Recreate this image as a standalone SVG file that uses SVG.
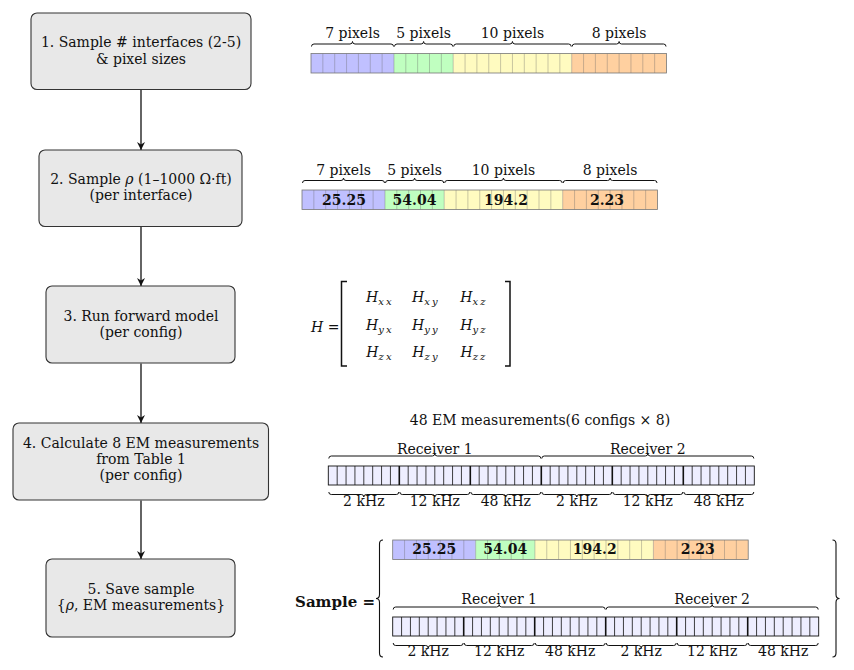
<svg xmlns="http://www.w3.org/2000/svg" width="854" height="670" viewBox="0 0 854 670">
<style>
text{font-family:"DejaVu Serif","Liberation Serif",serif;font-size:14px;fill:#111}
.node rect{fill:#e8e8e8;stroke:#333;stroke-width:1.1}
.c{text-anchor:middle}
.b{font-weight:bold}
.it{font-style:italic}
.sub{font-style:italic;font-size:10px;letter-spacing:2.2px}
.brace{fill:none;stroke:#111;stroke-width:1}
.cell{fill:none;stroke:#666;stroke-opacity:0.45;stroke-width:0.8}
.rborder{fill:none;stroke:#777;stroke-width:0.8}
.em{fill:#eeeeff;stroke:#111;stroke-width:0.9}
.emline{fill:none;stroke:#111;stroke-width:0.8}
.emthick{fill:none;stroke:#111;stroke-width:1.6}
.conn{fill:none;stroke:#111;stroke-width:1.3}
</style>
<defs>
<marker id="arr" viewBox="0 0 10 10" refX="10" refY="5" markerUnits="userSpaceOnUse" markerWidth="9" markerHeight="8" orient="auto">
<path d="M0,0 L10,5 L0,10 L3,5 z" fill="#111"/>
</marker>
<g id="rhobar">
<rect x="0" y="0" width="82.95" height="19.5" fill="#c0c0ff"/>
<rect x="82.95" y="0" width="59.25" height="19.5" fill="#c0ffc0"/>
<rect x="142.2" y="0" width="118.5" height="19.5" fill="#fffbc0"/>
<rect x="260.7" y="0" width="94.8" height="19.5" fill="#ffd0a0"/>
<path class="cell" d="M11.85,0V19.5M23.7,0V19.5M35.55,0V19.5M47.4,0V19.5M59.25,0V19.5M71.1,0V19.5M82.95,0V19.5M94.8,0V19.5M106.65,0V19.5M118.5,0V19.5M130.35,0V19.5M142.2,0V19.5M154.05,0V19.5M165.9,0V19.5M177.75,0V19.5M189.6,0V19.5M201.45,0V19.5M213.3,0V19.5M225.15,0V19.5M237,0V19.5M248.85,0V19.5M260.7,0V19.5M272.55,0V19.5M284.4,0V19.5M296.25,0V19.5M308.1,0V19.5M319.95,0V19.5M331.8,0V19.5M343.65,0V19.5"/>
<rect class="rborder" x="0" y="0" width="355.5" height="19.5"/>
</g>
<g id="rhobraces">
<path class="brace" d="M0.5,-7 Q0.5,-9.5 3,-9.5 L39,-9.5 Q41.5,-9.5 41.5,-12 Q41.5,-9.5 44,-9.5 L80,-9.5 Q82.5,-9.5 82.5,-7"/>
<path class="brace" d="M83.5,-7 Q83.5,-9.5 86,-9.5 L110.1,-9.5 Q112.6,-9.5 112.6,-12 Q112.6,-9.5 115.1,-9.5 L139.2,-9.5 Q141.7,-9.5 141.7,-7"/>
<path class="brace" d="M142.7,-7 Q142.7,-9.5 145.2,-9.5 L198.95,-9.5 Q201.45,-9.5 201.45,-12 Q201.45,-9.5 203.95,-9.5 L257.7,-9.5 Q260.2,-9.5 260.2,-7"/>
<path class="brace" d="M261.2,-7 Q261.2,-9.5 263.7,-9.5 L305.6,-9.5 Q308.1,-9.5 308.1,-12 Q308.1,-9.5 310.6,-9.5 L352.5,-9.5 Q355,-9.5 355,-7"/>
</g>
<g id="embar">
<rect class="em" x="0" y="0" width="426" height="19"/>
<path class="emline" d="M8.875,0V19M17.75,0V19M26.625,0V19M35.5,0V19M44.375,0V19M53.25,0V19M62.125,0V19M79.875,0V19M88.75,0V19M97.625,0V19M106.5,0V19M115.375,0V19M124.25,0V19M133.125,0V19M150.875,0V19M159.75,0V19M168.625,0V19M177.5,0V19M186.375,0V19M195.25,0V19M204.125,0V19M221.875,0V19M230.75,0V19M239.625,0V19M248.5,0V19M257.375,0V19M266.25,0V19M275.125,0V19M292.875,0V19M301.75,0V19M310.625,0V19M319.5,0V19M328.375,0V19M337.25,0V19M346.125,0V19M363.875,0V19M372.75,0V19M381.625,0V19M390.5,0V19M399.375,0V19M408.25,0V19M417.125,0V19"/>
<path class="emthick" d="M71,0V19M142,0V19M213,0V19M284,0V19M355,0V19"/>
</g>
<g id="embraces">
<path class="brace" d="M0.5,-7.5 Q0.5,-10 3,-10 L104,-10 Q106.5,-10 106.5,-12.5 Q106.5,-10 109,-10 L210,-10 Q212.5,-10 212.5,-7.5"/>
<path class="brace" d="M213.5,-7.5 Q213.5,-10 216,-10 L317,-10 Q319.5,-10 319.5,-12.5 Q319.5,-10 322,-10 L423,-10 Q425.5,-10 425.5,-7.5"/>
<path class="brace" d="M0.5,26 Q0.5,28.5 3,28.5 L33,28.5 Q35.5,28.5 35.5,31 Q35.5,28.5 38,28.5 L68,28.5 Q70.5,28.5 70.5,26"/>
<path class="brace" d="M71.5,26 Q71.5,28.5 74,28.5 L104,28.5 Q106.5,28.5 106.5,31 Q106.5,28.5 109,28.5 L139,28.5 Q141.5,28.5 141.5,26"/>
<path class="brace" d="M142.5,26 Q142.5,28.5 145,28.5 L175,28.5 Q177.5,28.5 177.5,31 Q177.5,28.5 180,28.5 L210,28.5 Q212.5,28.5 212.5,26"/>
<path class="brace" d="M213.5,26 Q213.5,28.5 216,28.5 L246,28.5 Q248.5,28.5 248.5,31 Q248.5,28.5 251,28.5 L281,28.5 Q283.5,28.5 283.5,26"/>
<path class="brace" d="M284.5,26 Q284.5,28.5 287,28.5 L317,28.5 Q319.5,28.5 319.5,31 Q319.5,28.5 322,28.5 L352,28.5 Q354.5,28.5 354.5,26"/>
<path class="brace" d="M355.5,26 Q355.5,28.5 358,28.5 L388,28.5 Q390.5,28.5 390.5,31 Q390.5,28.5 393,28.5 L423,28.5 Q425.5,28.5 425.5,26"/>
</g>
</defs>
<rect width="854" height="670" fill="#fff"/>

<g id="connectors">
<line class="conn" x1="141" y1="89.5" x2="141" y2="150" marker-end="url(#arr)"/>
<line class="conn" x1="141" y1="226.5" x2="141" y2="286" marker-end="url(#arr)"/>
<line class="conn" x1="141" y1="363.5" x2="141" y2="423" marker-end="url(#arr)"/>
<line class="conn" x1="141" y1="500.5" x2="141" y2="559" marker-end="url(#arr)"/>
</g>

<g id="node1" class="node">
<rect x="31" y="13" width="220" height="76.5" rx="6"/>
<text class="c" x="141" y="47">1. Sample # interfaces (2-5)</text>
<text class="c" x="141" y="63.5">&amp; pixel sizes</text>
</g>
<g id="node2" class="node">
<rect x="39" y="150" width="203" height="76.5" rx="6"/>
<text class="c" x="141" y="184">2. Sample <tspan class="it">ρ</tspan> (1–1000 Ω·ft)</text>
<text class="c" x="141" y="200">(per interface)</text>
</g>
<g id="node3" class="node">
<rect x="46" y="286" width="189" height="77" rx="6"/>
<text class="c" x="141" y="320.5">3. Run forward model</text>
<text class="c" x="141" y="336.5">(per config)</text>
</g>
<g id="node4" class="node">
<rect x="13" y="423" width="255.5" height="77" rx="6"/>
<text class="c" x="141" y="447.5">4. Calculate 8 EM measurements</text>
<text class="c" x="141" y="463.5">from Table 1</text>
<text class="c" x="141" y="479.5">(per config)</text>
</g>
<g id="node5" class="node">
<rect x="46" y="559" width="189" height="78" rx="6"/>
<text class="c" x="141" y="593.5">5. Save sample</text>
<text class="c" x="141" y="609.5">{<tspan class="it">ρ</tspan>, EM measurements}</text>
</g>

<g id="row1" transform="translate(311,53.5)">
<use href="#rhobar"/>
<use href="#rhobraces"/>
<text class="c" x="41.5" y="-15.5">7 pixels</text>
<text class="c" x="112.6" y="-15.5">5 pixels</text>
<text class="c" x="201.45" y="-15.5">10 pixels</text>
<text class="c" x="308.1" y="-15.5">8 pixels</text>
</g>

<g id="row2" transform="translate(302,190)">
<use href="#rhobar"/>
<use href="#rhobraces"/>
<text class="c" x="41.5" y="-15.5">7 pixels</text>
<text class="c" x="112.6" y="-15.5">5 pixels</text>
<text class="c" x="201.45" y="-15.5">10 pixels</text>
<text class="c" x="308.1" y="-15.5">8 pixels</text>
<text class="c b" x="42" y="14.5">25.25</text>
<text class="c b" x="112.5" y="14.5">54.04</text>
<text class="c b" x="204" y="14.5">194.2</text>
<text class="c b" x="305" y="14.5">2.23</text>
</g>

<g id="matrix">
<text x="311" y="332"><tspan class="it">H</tspan> =</text>
<path fill="none" stroke="#111" stroke-width="1.5" d="M347,281.5 H341.5 V366 H347"/>
<path fill="none" stroke="#111" stroke-width="1.5" d="M505,281.5 H510 V366 H505"/>
<text class="c" x="380" y="302"><tspan class="it">H</tspan><tspan class="sub" dy="3">xx</tspan></text>
<text class="c" x="426" y="302"><tspan class="it">H</tspan><tspan class="sub" dy="3">xy</tspan></text>
<text class="c" x="474" y="302"><tspan class="it">H</tspan><tspan class="sub" dy="3">xz</tspan></text>
<text class="c" x="380" y="329.5"><tspan class="it">H</tspan><tspan class="sub" dy="3">yx</tspan></text>
<text class="c" x="426" y="329.5"><tspan class="it">H</tspan><tspan class="sub" dy="3">yy</tspan></text>
<text class="c" x="474" y="329.5"><tspan class="it">H</tspan><tspan class="sub" dy="3">yz</tspan></text>
<text class="c" x="380" y="357"><tspan class="it">H</tspan><tspan class="sub" dy="3">zx</tspan></text>
<text class="c" x="426" y="357"><tspan class="it">H</tspan><tspan class="sub" dy="3">zy</tspan></text>
<text class="c" x="474" y="357"><tspan class="it">H</tspan><tspan class="sub" dy="3">zz</tspan></text>
</g>

<g id="row4">
<text class="c" x="540" y="424.5">48 EM measurements(6 configs × 8)</text>
<g transform="translate(328.3,466)">
<use href="#embar"/>
<use href="#embraces"/>
<text class="c" x="106.5" y="-12.5">Receiver 1</text>
<text class="c" x="319.5" y="-12.5">Receiver 2</text>
<text class="c" x="35.5" y="39.5">2 kHz</text>
<text class="c" x="106.5" y="39.5">12 kHz</text>
<text class="c" x="177.5" y="39.5">48 kHz</text>
<text class="c" x="248.5" y="39.5">2 kHz</text>
<text class="c" x="319.5" y="39.5">12 kHz</text>
<text class="c" x="390.5" y="39.5">48 kHz</text>
</g>
</g>

<g id="row5">
<text class="b" x="375" y="606.5" text-anchor="end" style="font-size:15px">Sample =</text>
<path class="brace" style="stroke-width:1.1" d="M383,540 Q379.5,540 379.5,544 L379.5,594.5 Q379.5,598.5 376,598.5 Q379.5,598.5 379.5,602.5 L379.5,653 Q379.5,657 383,657"/>
<path class="brace" style="stroke-width:1.1" d="M832.5,540 Q836,540 836,544 L836,594.5 Q836,598.5 839.5,598.5 Q836,598.5 836,602.5 L836,653 Q836,657 832.5,657"/>
<g transform="translate(392.7,540)">
<use href="#rhobar"/>
<text class="c b" x="41.5" y="14.3">25.25</text>
<text class="c b" x="112.5" y="14.3">54.04</text>
<text class="c b" x="202" y="14.3">194.2</text>
<text class="c b" x="305" y="14.3">2.23</text>
</g>
<g transform="translate(392.7,617)">
<use href="#embar"/>
<use href="#embraces"/>
<text class="c" x="106.5" y="-13">Receiver 1</text>
<text class="c" x="319.5" y="-13">Receiver 2</text>
<text class="c" x="35.5" y="39">2 kHz</text>
<text class="c" x="106.5" y="39">12 kHz</text>
<text class="c" x="177.5" y="39">48 kHz</text>
<text class="c" x="248.5" y="39">2 kHz</text>
<text class="c" x="319.5" y="39">12 kHz</text>
<text class="c" x="390.5" y="39">48 kHz</text>
</g>
</g>
</svg>
